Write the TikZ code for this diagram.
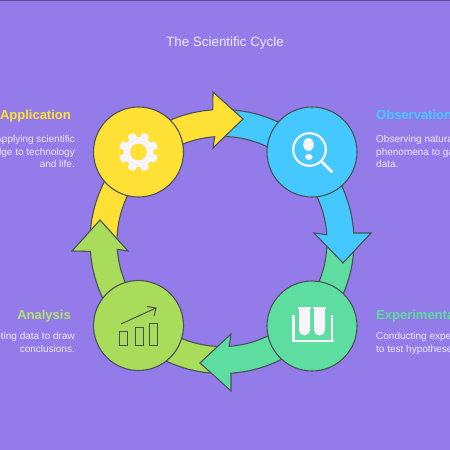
\documentclass[tikz,border=0pt]{standalone}
\usepackage{fontspec}
\setmainfont{Liberation Sans}
\definecolor{bg}{HTML}{937CE9}
\definecolor{topline}{HTML}{5A4A90}
\definecolor{edge}{HTML}{4A5058}
\definecolor{cyellow}{HTML}{FFE135}
\definecolor{cblue}{HTML}{45C8FF}
\definecolor{cgreen}{HTML}{5EDDA0}
\definecolor{clime}{HTML}{A8DC5A}
\definecolor{bodytext}{HTML}{ECE8FC}
\definecolor{icon}{HTML}{F6F5FA}
\newcommand{\ringarrow}[5]{%
  \begin{scope}[shift={(222,241.5)}]
    \filldraw[ringshape,fill=#1] (#2:132) arc[start angle=#2,end angle=#3,radius=132]
      #4 -- (#3:105) arc[start angle=#3,end angle=#5,radius=105] -- cycle;
  \end{scope}}
\tikzset{
  x=1pt,y=-1pt,
  ringshape/.style={draw=edge,line width=1.1pt,line join=miter},
  stagecircle/.style={circle,draw=edge,line width=1.1pt,minimum size=90pt,inner sep=0pt},
  heading/.style={font=\fontsize{13}{15}\selectfont\bfseries,inner sep=0pt},
  blurb/.style={font=\fontsize{10}{12.3}\selectfont,text=bodytext,inner sep=0pt},
  iconline/.style={draw=icon,line width=2.2pt},
  chartline/.style={draw=edge,line width=1pt}
}
\begin{document}
\begin{tikzpicture}
\useasboundingbox (0,0) rectangle (450,450);
\fill[bg] (0,0) rectangle (450,450);
\fill[topline] (0,0) rectangle (450,1);
\coordinate (yh1) at (213,92);  \coordinate (yt) at (243,119);  \coordinate (yh2) at (213,148);
\coordinate (bh1) at (371,233); \coordinate (bt) at (343,263);  \coordinate (bh2) at (314,233);
\coordinate (gh1) at (231,391); \coordinate (gt) at (200,363);  \coordinate (gh2) at (231,334);
\coordinate (lh1) at (72,251);  \coordinate (lt) at (100,220);  \coordinate (lh2) at (128,251);
% yellow tail, under the lime head
\ringarrow{cyellow}{180}{225}{}{180}
\ringarrow{clime}{90}{175.7}{-- (lh1) -- (lt) -- (lh2)}{90}
\ringarrow{cgreen}{0}{86.1}{-- (gh1) -- (gt) -- (gh2)}{0}
\ringarrow{cblue}{270}{356.3}{-- (bh1) -- (bt) -- (bh2)}{270}
\ringarrow{cyellow}{225}{266}{-- (yh1) -- (yt) -- (yh2)}{225}
% stages
\node[stagecircle,fill=cyellow] (app) at (138.5,152) {};
\node[stagecircle,fill=cblue] (obs) at (312,152) {};
\node[stagecircle,fill=cgreen] (exp) at (312,326) {};
\node[stagecircle,fill=clime] (ana) at (138.5,325.5) {};
% gear
\begin{scope}[shift={(app.center)}]
  \foreach \a in {0,45,...,315}
    \fill[icon,rotate=\a+22.5,rounded corners=1.5pt] (-4,-19.5) rectangle (4,-10);
  \fill[icon] (0,0) circle[radius=15];
  \fill[cyellow] (0,0) circle[radius=8.3];
\end{scope}
% magnifier
\begin{scope}[shift={(obs.center)}]
  \draw[iconline] (-2.5,-2.5) circle[radius=16.3];
  \draw[iconline,line width=2.6pt,line cap=round] (9,9) -- (20,20);
  \fill[icon] (-3.5,-7.5) ellipse[x radius=5.3,y radius=6.5];
  \fill[icon] (-3.2,5) ellipse[x radius=3.8,y radius=3];
\end{scope}
% test tubes
\begin{scope}[shift={(exp.center)}]
  \draw[iconline,line width=2.6pt,line join=miter] (-18.5,-11) -- (-18.5,15) -- (20,15) -- (20,-11);
  \draw[iconline,line width=2.6pt] (-20,15) -- (21.5,15);
  \fill[icon] (-13,-18) -- (-2,-18) -- (-2,4) arc[start angle=0,end angle=180,x radius=5.5,y radius=5.5] -- cycle;
  \fill[icon] (2,-18) -- (13,-18) -- (13,4) arc[start angle=0,end angle=180,x radius=5.5,y radius=5.5] -- cycle;
  \draw[iconline,line width=1.2pt] (-14,-18) -- (-1,-18) (1,-18) -- (14,-18);
\end{scope}
% chart
\begin{scope}[shift={(ana.center)}]
  \draw[chartline] (-19.5,5.5) rectangle (-11.5,19.5);
  \draw[chartline] (-3.5,1.5) rectangle (4.5,19.5);
  \draw[chartline] (11,-2.5) rectangle (19,19.5);
  \draw[chartline] (-17.5,-1.5) -- (17.5,-17.5);
  \draw[chartline] (8.5,-19) -- (17.5,-17.5) -- (15.5,-9.5);
\end{scope}
% text
\node[font=\fontsize{13.4}{15}\selectfont,text=bodytext,inner sep=0pt,anchor=base] (title) at (225,46) {The Scientific Cycle};
\node[heading,text=cyellow,anchor=base east] (tapp) at (71,119) {Application};
\node[blurb,anchor=north east,align=right] (dapp) at (75,135.5) {Applying scientific\\knowledge to technology\\and life.};
\node[heading,text=cblue,anchor=base west] (tobs) at (376,119) {Observation};
\node[blurb,anchor=north west,align=left] (dobs) at (376,135.5) {Observing natural\\phenomena to gather\\data.};
\node[heading,text=cgreen,anchor=base west] (texp) at (376,319) {Experimental};
\node[blurb,anchor=north west,align=left] (dexp) at (376,332.5) {Conducting experiments\\to test hypotheses.};
\node[heading,text=clime!85!white,anchor=base east] (tana) at (71,319) {Analysis};
\node[blurb,anchor=north east,align=right] (dana) at (75,332.5) {Interpreting data to draw\\conclusions.};
\end{tikzpicture}
\end{document}
